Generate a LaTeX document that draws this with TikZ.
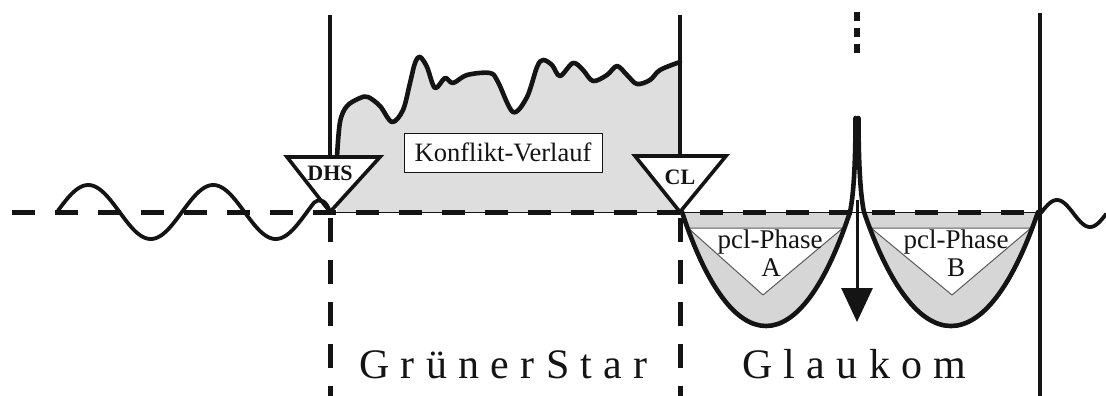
\documentclass[tikz,border=0pt]{standalone}
\usepackage{fontspec}
\setmainfont{Liberation Serif}
\newfontfamily\spacedfont[LetterSpace=27]{Liberation Serif}
\usetikzlibrary{arrows.meta}
\definecolor{konfliktgray}{HTML}{DEDEDE}
\definecolor{bowlgray}{HTML}{D6D6D6}
\definecolor{ink}{HTML}{141414}
\definecolor{thingray}{HTML}{5A5A5A}
\begin{document}
\begin{tikzpicture}[x=1pt,y=-1pt, line join=round,
  vline/.style={line width=3.6pt, draw=ink},
  vdash/.style={line width=5pt, draw=ink, dash pattern=on 24pt off 18pt},
  hdash/.style={line width=5pt, draw=ink, dash pattern=on 23pt off 20pt},
  curve/.style={line width=4.6pt, draw=ink, line cap=round},
  wave/.style={line width=3.8pt, draw=ink, line cap=round},
  marker/.style={line width=3.6pt, draw=ink, fill=white, line join=miter},
  markertext/.style={font=\bfseries\fontsize{22}{22}\selectfont, inner sep=0, text=ink},
  phasetri/.style={line width=1pt, draw=thingray, fill=white},
  phasetext/.style={font=\fontsize{27}{27}\selectfont, inner sep=0, anchor=base, text=ink},
  bigtext/.style={font=\spacedfont\fontsize{42}{42}\selectfont, inner sep=0, anchor=base west, text=ink},
]
\useasboundingbox (0,0) rectangle (1106,396);

% conflict region fill
\fill[konfliktgray] (337,212) -- plot[smooth, tension=0.55] coordinates {(337,157) (340,122) (347,106) (360,98) (368,97) (380,106) (392,122) (403,110) (410,83) (415,63) (420,57) (427,67) (435,88) (445,78) (453,83) (467,75) (490,73) (498,82) (513,112) (527,97) (537,67) (543,60) (552,65) (560,76) (573,63) (583,70) (593,81) (607,75) (617,66) (627,75) (637,84) (650,80) (660,70) (680,62)} -- (680,212) -- cycle;

% bowl fills
\fill[bowlgray] (682,212) .. controls (732,364) and (800,364) .. (850,212) -- cycle;
\fill[bowlgray] (864,212) .. controls (916,364) and (986,364) .. (1038,212) -- cycle;

% phase triangles
\draw[phasetri] (688,228) -- (843,228) -- (763,295) -- cycle;
\draw[phasetri] (871,228) -- (1031,228) -- (952,295) -- cycle;
\node[phasetext] (pclA) at (770,248) {pcl-Phase};
\node[phasetext] (phA) at (771,276) {A};
\node[phasetext] (pclB) at (956,248) {pcl-Phase};
\node[phasetext] (phB) at (956,276) {B};

% baseline
\draw[line width=0.8pt, draw=ink] (330,212) -- (1040,212);
\draw[hdash] (12,212) -- (1040,212);

% vertical lines
\coordinate (dhsTop) at (330,15);
\coordinate (dhsApex) at (330,212);
\coordinate (clTop) at (680,15);
\coordinate (clApex) at (680,212);
\coordinate (rTop) at (1040,13);
\coordinate (rBot) at (1040,396);
\draw[vline] (dhsTop) -- (dhsApex);
\draw[vline] (clTop) -- (clApex);
\draw[vline] (rTop) -- (rBot);
\draw[vdash] (330,218) -- (330,396);
\draw[vdash] (680,218) -- (680,396);
\draw[line width=5.5pt, draw=ink, dash pattern=on 9pt off 7pt] (857,12) -- (857,55);

% conflict curve
\draw[curve] plot[smooth, tension=0.55] coordinates {(337,157) (340,122) (347,106) (360,98) (368,97) (380,106) (392,122) (403,110) (410,83) (415,63) (420,57) (427,67) (435,88) (445,78) (453,83) (467,75) (490,73) (498,82) (513,112) (527,97) (537,67) (543,60) (552,65) (560,76) (573,63) (583,70) (593,81) (607,75) (617,66) (627,75) (637,84) (650,80) (660,70) (680,62)};

% marker triangles
\draw[marker] (287,157) -- (380,157) -- (dhsApex) -- cycle;
\draw[marker] (635,156) -- (726,156) -- (clApex) -- cycle;
\node[markertext] (dhs) at (330,173) {DHS};
\node[markertext] (cl) at (680,177) {CL};

% Konflikt box
\node[draw=ink, line width=0.8pt, fill=white, minimum width=198pt, minimum height=39pt, inner sep=0, font=\fontsize{26.5}{26.5}\selectfont, text=ink] (konflikt) at (503,152.5) {Konflikt-Verlauf};

% bowls with spike
\coordinate (spikeTopL) at (855.5,118);
\coordinate (spikeTopR) at (858.5,118);
\draw[curve] (682,212) .. controls (732,364) and (800,364) .. (850,212) .. controls (853,198) and (855.5,170) .. (spikeTopL);
\draw[curve] (spikeTopR) .. controls (858.5,170) and (861,198) .. (864,212) .. controls (916,364) and (986,364) .. (1038,212);
\fill[ink] (spikeTopL) -- (spikeTopR) -- (858.5,170) -- (855.5,170) -- cycle;

% arrow
\coordinate (arrStart) at (857,200);
\coordinate (arrEnd) at (857,322);
\draw[line width=3pt, draw=ink, -{Triangle[width=31pt,length=34pt]}] (arrStart) -- (arrEnd);

% waves
\draw[wave] plot[domain=58:314, samples=140, smooth] (\x, {212-27*sin(2.88*(\x-57))}) .. controls (320,198) and (326,200) .. (dhsApex);
\draw[wave] plot[domain=1041:1106, samples=60, smooth] (\x, {213.5-13.5*sin(5.4545*(\x-1040.5))});

% bottom labels
\node[bigtext] (gruener) at (359,378) {GrünerStar};
\node[bigtext] (glaukom) at (742,378) {Glaukom};
\end{tikzpicture}
\end{document}
